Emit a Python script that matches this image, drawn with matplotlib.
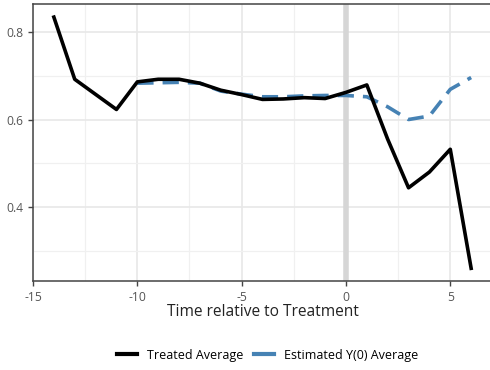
import numpy as np
import matplotlib.pyplot as plt

# Treated group averages by time relative to treatment
treated_t = [-14, -13, -11, -10, -9, -8, -7, -6, -5, -4, -3, -2, -1, 0, 1, 2, 3, 4, 5, 6]
treated_avg = [0.834, 0.692, 0.623, 0.686, 0.692, 0.692, 0.683, 0.667, 0.657, 0.646, 0.647, 0.650, 0.648, 0.662, 0.679, 0.555, 0.444, 0.480, 0.532, 0.260]

# Estimated counterfactual Y(0)
est_t = [-10, -9, -8, -7, -6, -5, -4, -3, -2, -1, 0, 1, 2, 3, 4, 5, 6]
est_avg = [0.683, 0.684, 0.685, 0.683, 0.665, 0.658, 0.652, 0.652, 0.654, 0.655, 0.655, 0.652, 0.629, 0.600, 0.608, 0.669, 0.696]

plt.rcParams['font.family'] = ['Open Sans', 'DejaVu Sans']

fig = plt.figure(figsize=(4.9, 3.7), dpi=100)
ax = fig.add_axes([33 / 490, 1 - 281 / 370, 459 / 490, 277 / 370])

ax.set_xlim(-15, 7)
ax.set_ylim(0.231, 0.864)

# major + minor grid
ax.set_xticks([-15, -10, -5, 0, 5])
ax.set_xticklabels(['-15', '-10', '-5', '0', '5'])
ax.set_yticks([0.4, 0.6, 0.8])
ax.set_xticks([-12.5, -7.5, -2.5, 2.5], minor=True)
ax.set_yticks([0.3, 0.5, 0.7], minor=True)
ax.grid(True, which='major', color='#e8e8e8', linewidth=1.2)
ax.grid(True, which='minor', color='#f0f0f0', linewidth=0.9)
ax.set_axisbelow(True)

# treatment onset marker
ax.axvline(0, color='#d6d6d6', linewidth=4, zorder=1)

ax.plot(est_t, est_avg, color='#4682b4', linewidth=2.6, linestyle=(0, (4.5, 2.5)),
        label='Estimated Y(0) Average', zorder=3)
ax.plot(treated_t, treated_avg, color='black', linewidth=2.6,
        label='Treated Average', zorder=4)

for side in ['top', 'left', 'bottom']:
    ax.spines[side].set_color('#444444')
    ax.spines[side].set_linewidth(1.1)
ax.spines['right'].set_visible(False)

ax.tick_params(which='major', direction='out', length=3.5, width=1, color='#444444',
               labelcolor='#555555', labelsize=8.7)
ax.tick_params(which='minor', length=0)

ax.set_xlabel('Time relative to Treatment', fontsize=11.2, color='#222222', labelpad=0)

handles, labels = ax.get_legend_handles_labels()
leg = fig.legend(handles[::-1], labels[::-1], loc='center', bbox_to_anchor=(0.546, 0.04),
                 ncol=2, frameon=False, fontsize=9, handlelength=1.55,
                 columnspacing=0.9, handletextpad=0.8)
for line in leg.get_lines():
    line.set_linestyle('-')
    line.set_linewidth(3)

fig.savefig('out.png', dpi=100)
